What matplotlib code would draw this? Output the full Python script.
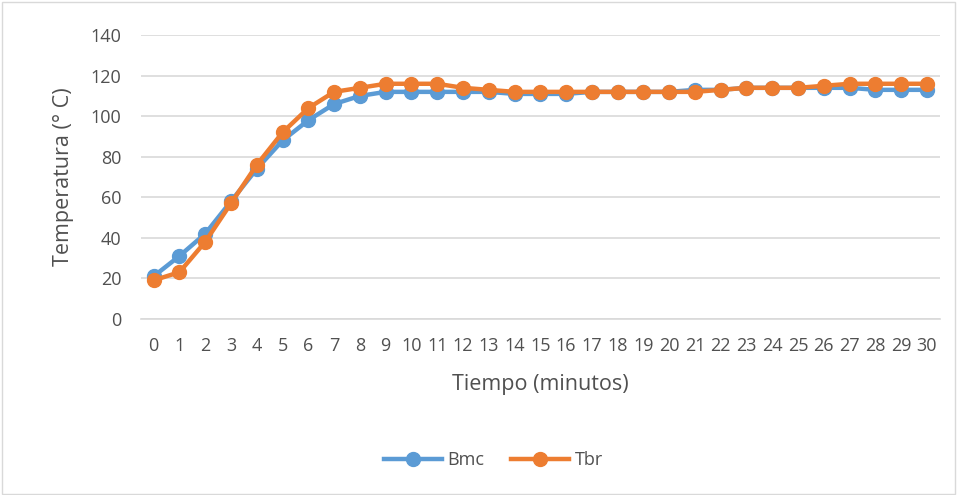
import numpy as np
import matplotlib.pyplot as plt
from matplotlib.patches import Rectangle

# tiempo en minutos
minutos = list(range(0, 31))
bmc = [21, 31, 42, 58, 74, 88, 98, 106, 110, 112, 112, 112, 112, 112, 111, 111, 111,
       112, 112, 112, 112, 113, 113, 114, 114, 114, 114, 114, 113, 113, 113]
tbr = [19, 23, 38, 57, 76, 92, 104, 112, 114, 116, 116, 116, 114, 113, 112, 112, 112,
       112, 112, 112, 112, 112, 113, 114, 114, 114, 115, 116, 116, 116, 116]
yticks = [0, 20, 40, 60, 80, 100, 120, 140]

plt.rcParams['font.family'] = ['Open Sans', 'DejaVu Sans']
gris = '#505050'

fig = plt.figure(figsize=(9.58, 4.95), dpi=100)
ax = fig.add_axes([0.147, 0.356, 0.834, 0.573])

x = np.arange(len(minutos))
ax.plot(x, bmc, '-o', color='#5b9bd5', lw=3.2, ms=10, label='Bmc', zorder=3)
ax.plot(x, tbr, '-o', color='#ed7d31', lw=3.2, ms=10, label='Tbr', zorder=4)

ax.set_xlim(-0.5, len(minutos) - 0.5)
ax.set_ylim(0, 140)
ax.set_yticks(yticks)
ax.set_xticks(x)
ax.set_xticklabels([str(m) for m in minutos])
ax.tick_params(axis='both', length=0, labelsize=13, colors=gris)
ax.tick_params(axis='y', pad=14)
ax.tick_params(axis='x', pad=13)
ax.grid(axis='y', color='#d9d9d9', lw=1.2)
ax.set_axisbelow(True)
for s in ['top', 'right', 'left']:
    ax.spines[s].set_visible(False)
ax.spines['bottom'].set_color('#d9d9d9')
ax.spines['bottom'].set_linewidth(1.2)

ax.set_xlabel('Tiempo (minutos)', fontsize=15.5, color=gris, labelpad=14)
ax.set_ylabel('Temperatura (° C)', fontsize=15.5, color=gris, labelpad=12)

leg = fig.legend(loc='center', bbox_to_anchor=(0.515, 0.071), ncol=2, frameon=False,
                 fontsize=13, handlelength=3.2, columnspacing=1.5, handletextpad=0.3)
for t in leg.get_texts():
    t.set_color(gris)

fig.patches.append(Rectangle((0.002, 0.003), 0.995, 0.993, transform=fig.transFigure,
                             fill=False, edgecolor='#d9d9d9', lw=1))

fig.savefig('out.png', dpi=100, facecolor='white')
